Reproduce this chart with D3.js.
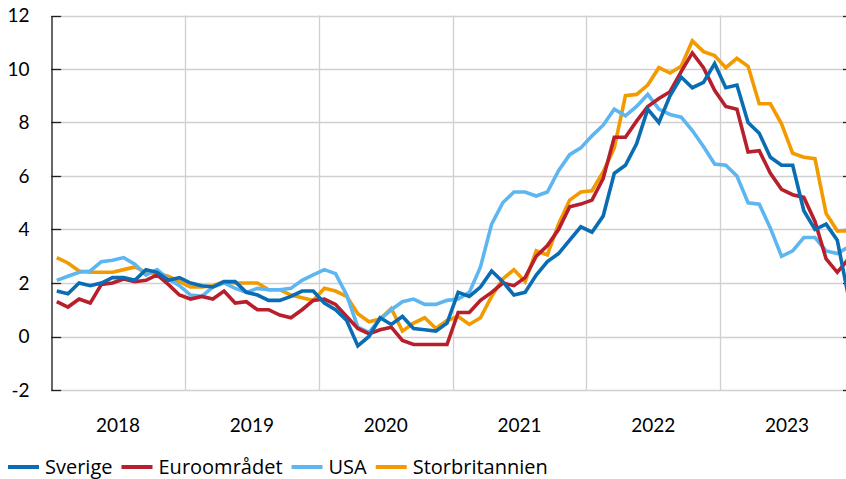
<!DOCTYPE html>
<html>
<head>
<meta charset="utf-8">
<script src="https://cdn.jsdelivr.net/npm/d3@7"></script>
<style>
  html, body { margin: 0; padding: 0; background: #fff; }
  svg { display: block; }
  text { fill: #000; }
</style>
</head>
<body>
<div id="chart"></div>
<script>
// ---- Data (monthly, Jan 2018 – Dec 2023) ----
const years = ["2018", "2019", "2020", "2021", "2022", "2023"];
const months = [];
years.forEach(yr => { for (let m = 1; m <= 12; m++) months.push(yr + "-" + String(m).padStart(2, "0")); });

const yTicks = [-2, 0, 2, 4, 6, 8, 10, 12];

const sverige = [
  1.7, 1.6, 2.0, 1.9, 2.0, 2.2, 2.2, 2.1, 2.5, 2.4, 2.1, 2.2,
  2.0, 1.9, 1.85, 2.05, 2.05, 1.65, 1.55, 1.35, 1.35, 1.5, 1.7, 1.7,
  1.25, 1.0, 0.6, -0.35, 0.0, 0.7, 0.45, 0.75, 0.3, 0.25, 0.2, 0.5,
  1.65, 1.5, 1.85, 2.45, 2.05, 1.55, 1.65, 2.3, 2.8, 3.1, 3.6, 4.1,
  3.9, 4.5, 6.1, 6.4, 7.2, 8.5, 8.0, 9.0, 9.7, 9.3, 9.5, 10.2,
  9.3, 9.4, 8.0, 7.6, 6.7, 6.4, 6.4, 4.7, 4.0, 4.2, 3.6, 1.5
];
const euro = [
  1.3, 1.1, 1.4, 1.25, 1.95, 2.0, 2.15, 2.05, 2.1, 2.3, 1.95, 1.55,
  1.4, 1.5, 1.4, 1.7, 1.25, 1.3, 1.0, 1.0, 0.8, 0.7, 1.0, 1.35,
  1.4, 1.2, 0.75, 0.3, 0.1, 0.25, 0.35, -0.15, -0.3, -0.3, -0.3, -0.3,
  0.9, 0.9, 1.35, 1.65, 2.0, 1.9, 2.2, 3.0, 3.4, 4.0, 4.85, 4.95,
  5.1, 5.9, 7.45, 7.45, 8.05, 8.6, 8.9, 9.15, 9.9, 10.6, 10.05, 9.2,
  8.6, 8.5, 6.9, 6.95, 6.1, 5.5, 5.3, 5.2, 4.3, 2.9, 2.4, 2.9
];
const usa = [
  2.1, 2.25, 2.4, 2.45, 2.8, 2.85, 2.95, 2.7, 2.3, 2.5, 2.15, 1.9,
  1.55, 1.5, 1.85, 2.0, 1.8, 1.65, 1.8, 1.75, 1.75, 1.8, 2.1, 2.3,
  2.5, 2.35, 1.55, 0.35, 0.15, 0.65, 1.0, 1.3, 1.4, 1.2, 1.2, 1.35,
  1.4, 1.65, 2.6, 4.2, 5.0, 5.4, 5.4, 5.25, 5.4, 6.2, 6.8, 7.05,
  7.5, 7.9, 8.5, 8.25, 8.6, 9.05, 8.5, 8.3, 8.2, 7.7, 7.1, 6.45,
  6.4, 6.0, 5.0, 4.95, 4.05, 3.0, 3.2, 3.7, 3.7, 3.2, 3.1, 3.35
];
const uk = [
  2.95, 2.75, 2.45, 2.4, 2.4, 2.4, 2.5, 2.6, 2.4, 2.35, 2.25, 2.05,
  1.85, 1.85, 1.9, 2.05, 2.0, 2.0, 2.0, 1.75, 1.75, 1.55, 1.45, 1.35,
  1.8, 1.7, 1.5, 0.85, 0.55, 0.65, 1.05, 0.2, 0.5, 0.7, 0.3, 0.6,
  0.75, 0.45, 0.7, 1.5, 2.15, 2.5, 2.05, 3.2, 3.05, 4.2, 5.1, 5.4,
  5.45, 6.15, 7.05, 9.0, 9.05, 9.4, 10.05, 9.85, 10.1, 11.05, 10.65, 10.5,
  10.05, 10.4, 10.1, 8.7, 8.7, 7.95, 6.85, 6.7, 6.65, 4.6, 3.95, 3.95
];

const seriesNames = ["Sverige", "Euroområdet", "USA", "Storbritannien"];
const seriesColors = ["#0a6db3", "#b81f2d", "#5db6f0", "#f29a00"];
const seriesValues = [sverige, euro, usa, uk];

// ---- Layout ----
const W = 846, H = 479;
const mLeft = 51.2, mRight = 854, mTop = 15.5, mBottom = 390;
const axisFont = "Lato, 'Noto Sans', sans-serif";
const legendFont = "'Open Sans', 'Noto Sans', sans-serif";

const svg = d3.select("#chart").append("svg").attr("width", W).attr("height", H);

const x = d3.scalePoint().domain(months).range([mLeft, mRight]).padding(0.5);
const step = x.step();
const y = d3.scaleLinear().domain([-2, 12]).range([mBottom, mTop]);

// horizontal gridlines
svg.append("g").selectAll("line").data(yTicks).join("line")
  .attr("x1", mLeft).attr("x2", mRight)
  .attr("y1", d => Math.round(y(d)) + 0.5).attr("y2", d => Math.round(y(d)) + 0.5)
  .attr("stroke", "#d0d0d0").attr("stroke-width", 1.3);

// vertical year gridlines
const yearBounds = years.slice(1).map(yr => x(yr + "-01") - step / 2);
svg.append("g").selectAll("line").data(yearBounds).join("line")
  .attr("x1", d => Math.round(d) + 0.5).attr("x2", d => Math.round(d) + 0.5)
  .attr("y1", mTop).attr("y2", mBottom)
  .attr("stroke", "#d0d0d0").attr("stroke-width", 1.3);

// left axis
const yAxis = d3.axisLeft(y).tickValues(yTicks).tickSize(0).tickPadding(22).tickFormat(d => String(d));
const gy = svg.append("g").attr("transform", `translate(${Math.round(mLeft) + 0.5},0)`).call(yAxis);
gy.select(".domain").attr("stroke", "#000").attr("stroke-width", 1.2);
gy.selectAll("text").style("font-size", "19px").style("font-family", axisFont).style("fill", "#000");

// inner tick marks (left and right)
svg.append("g").selectAll("line").data(yTicks).join("line")
  .attr("x1", mLeft).attr("x2", mLeft + 10)
  .attr("y1", d => Math.round(y(d)) + 0.5).attr("y2", d => Math.round(y(d)) + 0.5)
  .attr("stroke", "#222").attr("stroke-width", 1.3);
svg.append("g").selectAll("line").data(yTicks).join("line")
  .attr("x1", mRight - 11).attr("x2", mRight)
  .attr("y1", d => Math.round(y(d)) + 0.5).attr("y2", d => Math.round(y(d)) + 0.5)
  .attr("stroke", "#222").attr("stroke-width", 1.3);

// year labels
svg.append("g").selectAll("text").data(years).join("text")
  .attr("x", yr => (x(yr + "-01") + x(yr + "-12")) / 2)
  .attr("y", 432)
  .attr("text-anchor", "middle")
  .style("font-size", "19px").style("font-family", axisFont)
  .text(d => d);

// lines (Storbritannien first, Sverige on top)
const line = d3.line().x((d, i) => x(months[i])).y(d => y(d));
const order = [3, 2, 1, 0];
svg.append("g").selectAll("path").data(order).join("path")
  .attr("d", k => line(seriesValues[k]))
  .attr("fill", "none")
  .attr("stroke", k => seriesColors[k])
  .attr("stroke-width", 3.6)
  .attr("stroke-linejoin", "miter");

// legend
const lg = svg.append("g").attr("transform", "translate(8,467)");
let lx = 0;
seriesNames.forEach((name, k) => {
  lg.append("line").attr("x1", lx).attr("x2", lx + 31).attr("y1", 0).attr("y2", 0)
    .attr("stroke", seriesColors[k]).attr("stroke-width", 4);
  const t = lg.append("text").attr("x", lx + 37).attr("y", 7)
    .style("font-size", "20px").style("font-family", legendFont).text(name);
  lx += 37 + t.node().getComputedTextLength() + 9;
});
</script>
</body>
</html>
